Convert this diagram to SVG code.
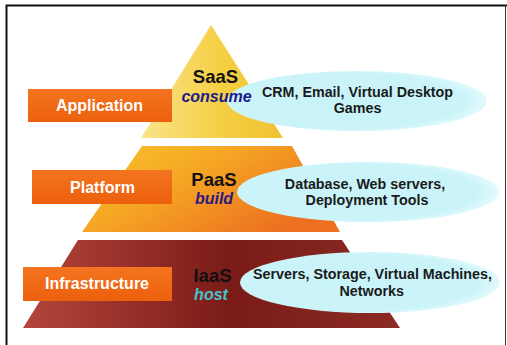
<svg xmlns="http://www.w3.org/2000/svg" width="507" height="345" viewBox="0 0 507 345">
<defs>
<linearGradient id="gTop" x1="0" y1="0" x2="1" y2="0">
<stop offset="0" stop-color="#fae48a"/><stop offset="0.55" stop-color="#f5cf45"/><stop offset="1" stop-color="#f0c232"/>
</linearGradient>
<linearGradient id="gMid" x1="0" y1="0" x2="1" y2="0.6">
<stop offset="0" stop-color="#f9c52c"/><stop offset="0.45" stop-color="#f5a624"/><stop offset="1" stop-color="#ec7020"/>
</linearGradient>
<linearGradient id="gBot" x1="0" y1="0" x2="1" y2="0">
<stop offset="0" stop-color="#b4463b"/><stop offset="0.55" stop-color="#7a1b17"/><stop offset="1" stop-color="#8c2b24"/>
</linearGradient>
<linearGradient id="gBox" x1="0" y1="0" x2="0" y2="1">
<stop offset="0" stop-color="#f47420"/><stop offset="1" stop-color="#ec600c"/>
</linearGradient>
<radialGradient id="gEll" cx="0.45" cy="0.5" r="0.55">
<stop offset="0" stop-color="#c8f3f8"/><stop offset="0.85" stop-color="#cbf4f9"/><stop offset="1" stop-color="#e2fafc"/>
</radialGradient>
</defs>
<style>
.frame{stroke:#111;stroke-width:2;fill:none}
.box{fill:url(#gBox)}
.boxt{font-family:"Liberation Sans",Arial,sans-serif;font-weight:bold;font-size:16px;fill:#fff;text-anchor:middle}
.ell{fill:url(#gEll)}
.et{font-family:"Liberation Sans",Arial,sans-serif;font-weight:bold;font-size:14.3px;fill:#1a1a1a;text-anchor:middle}
.lvl{font-family:"Liberation Sans",Arial,sans-serif;font-weight:bold;font-size:18.5px;fill:#121212;text-anchor:middle}
.verb{font-family:"Liberation Sans",Arial,sans-serif;font-weight:bold;font-style:italic;font-size:16px;text-anchor:middle}
</style>
<rect width="507" height="345" fill="#fff"/>
<path class="frame" d="M6.5,345 V5.5 H507"/>
<line x1="505.5" y1="5" x2="505.5" y2="345" stroke="#333" stroke-width="1"/>
<g id="saas">
<polygon points="211,25 283,138 141,138" fill="url(#gTop)"/>
<ellipse class="ell" cx="357" cy="101" rx="130" ry="30"/>
<text class="lvl" x="215.5" y="83.3">SaaS</text>
<text class="verb" x="216.5" y="102.3" fill="#1c1c8a">consume</text>
<text class="et" x="357.5" y="96.7">CRM, Email, Virtual Desktop</text>
<text class="et" x="357.5" y="113.3">Games</text>
</g>
<g id="paas">
<polygon points="142,146 292,146 340,232 82,232" fill="url(#gMid)"/>
<ellipse class="ell" cx="368" cy="192" rx="131" ry="30"/>
<text class="lvl" x="214" y="186">PaaS</text>
<text class="verb" x="214" y="204.3" fill="#2c1a80">build</text>
<text class="et" x="365" y="189">Database, Web servers,</text>
<text class="et" x="367" y="205">Deployment Tools</text>
</g>
<g id="iaas">
<polygon points="78,240 342,240 400,328 23,328" fill="url(#gBot)"/>
<ellipse class="ell" cx="370" cy="282.5" rx="130" ry="30.5"/>
<text class="lvl" x="212.5" y="281.7" fill="#1a0c0c">IaaS</text>
<text class="verb" x="211" y="300" fill="#44c4d2">host</text>
<text class="et" x="372.5" y="279.3">Servers, Storage, Virtual Machines,</text>
<text class="et" x="371.7" y="295.7">Networks</text>
</g>
<g id="application">
<rect class="box" x="28" y="89" width="144" height="33"/>
<text class="boxt" x="99.5" y="110.5">Application</text>
</g>
<g id="platform">
<rect class="box" x="32" y="170" width="140" height="34"/>
<text class="boxt" x="102.5" y="192.7">Platform</text>
</g>
<g id="infrastructure">
<rect class="box" x="23" y="267" width="149" height="34"/>
<text class="boxt" x="97" y="288.7">Infrastructure</text>
</g>
<g id="connectors"/>
</svg>
